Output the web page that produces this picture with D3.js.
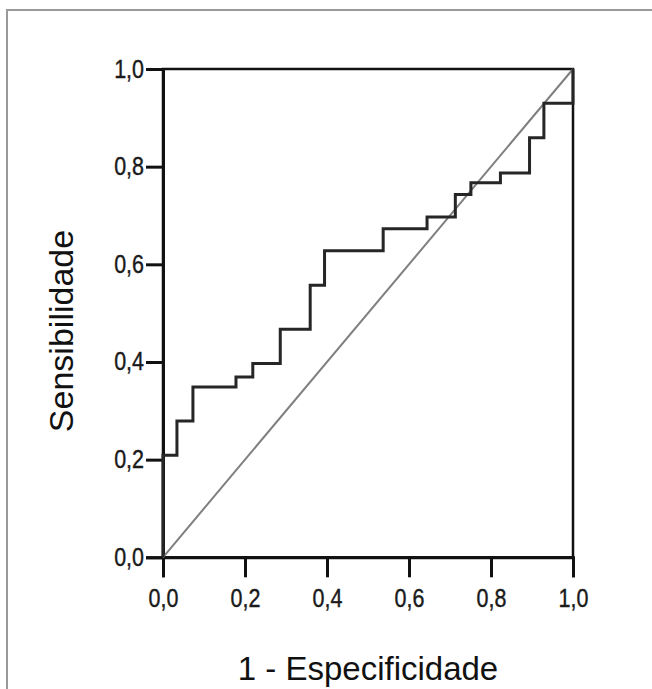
<!DOCTYPE html>
<html>
<head>
<meta charset="utf-8">
<script src="https://cdn.jsdelivr.net/npm/d3@7"></script>
<style>
  body { margin: 0; background: #fff; }
  svg { display: block; }
  .tick text { font-family: "Liberation Sans", Arial, sans-serif; }
</style>
</head>
<body>
<div id="chart"></div>
<script>
// ROC curve (vertices of the step line)
const fpr = [0, 0.034, 0.073, 0.178, 0.219, 0.286, 0.359, 0.394, 0.537, 0.644, 0.713, 0.751, 0.823, 0.894, 0.929, 1, 1];
const tpr = [0, 0.209, 0.279, 0.349, 0.369, 0.397, 0.467, 0.557, 0.628, 0.673, 0.697, 0.743, 0.767, 0.787, 0.859, 0.930, 1.0];
const tickValues = [0, 0.2, 0.4, 0.6, 0.8, 1.0];
const xTitle = "1 - Especificidade";
const yTitle = "Sensibilidade";

const width = 652, height = 689;
const margin = ({top: 69, right: 79, bottom: 131, left: 163});
const fmt = d => d3.format(".1f")(d).replace(".", ",");
const squeeze = 0.86; // tick labels are a narrow face in the original

const svg = d3.select('#chart').append('svg')
    .attr("width", width)
    .attr("height", height);

// outer frame (only top and left edges show)
svg.append("path")
    .attr("d", "M7,689 V10 H652")
    .attr("fill", "none")
    .attr("stroke", "#9a9a9a")
    .attr("stroke-width", 2);

const x = d3.scaleLinear().domain([0, 1]).range([margin.left, width - margin.right]);
const y = d3.scaleLinear().domain([0, 1]).range([height - margin.bottom - 0.7, margin.top]);

// plot box
svg.append("rect")
    .attr("x", x(0)).attr("y", y(1))
    .attr("width", x(1) - x(0)).attr("height", y(0) - y(1))
    .attr("fill", "none")
    .attr("stroke", "#111")
    .attr("stroke-width", 2.5);

const xAxis = svg.append("g")
    .attr("transform", `translate(0,${y(0)})`)
    .call(d3.axisBottom(x).tickValues(tickValues).tickFormat(fmt).tickSize(20).tickPadding(12));
const yAxis = svg.append("g")
    .attr("transform", `translate(${x(0)},0)`)
    .call(d3.axisLeft(y).tickValues(tickValues).tickFormat(fmt).tickSize(17).tickPadding(2));

[xAxis, yAxis].forEach(g => {
    g.select(".domain").attr("stroke", "#111").attr("stroke-width", 3);
    g.selectAll(".tick line").attr("stroke", "#111").attr("stroke-width", 3);
    g.selectAll(".tick text")
        .attr("fill", "#1a1a1a")
        .attr("stroke", "#1a1a1a")
        .attr("stroke-width", 0.4)
        .style("font-size", "25px")
        .attr("transform", `scale(${squeeze},1)`);
});
xAxis.selectAll(".tick text").attr("dy", "0.7em");
yAxis.selectAll(".tick text").attr("x", -19 / squeeze);

// reference diagonal
svg.append("line")
    .attr("x1", x(0)).attr("y1", y(0))
    .attr("x2", x(1)).attr("y2", y(1))
    .attr("stroke", "#7f7f7f")
    .attr("stroke-width", 2);

// ROC step curve
const pts = fpr.map((d, i) => [d, tpr[i]]);
svg.append("path")
    .datum(pts)
    .attr("fill", "none")
    .attr("stroke", "#262626")
    .attr("stroke-width", 3)
    .attr("d", d3.line().x(d => x(d[0])).y(d => y(d[1])).curve(d3.curveStepBefore));

// axis titles
svg.append("text")
    .attr("x", (x(0) + x(1)) / 2)
    .attr("y", 680)
    .attr("text-anchor", "middle")
    .attr("font-family", "Liberation Sans, Arial, sans-serif")
    .attr("font-size", 33)
    .attr("fill", "#111")
    .text(xTitle);

svg.append("text")
    .attr("transform", "translate(73,331) rotate(-90)")
    .attr("text-anchor", "middle")
    .attr("font-family", "Liberation Sans, Arial, sans-serif")
    .attr("font-size", 34)
    .attr("fill", "#111")
    .text(yTitle);
</script>
</body>
</html>
